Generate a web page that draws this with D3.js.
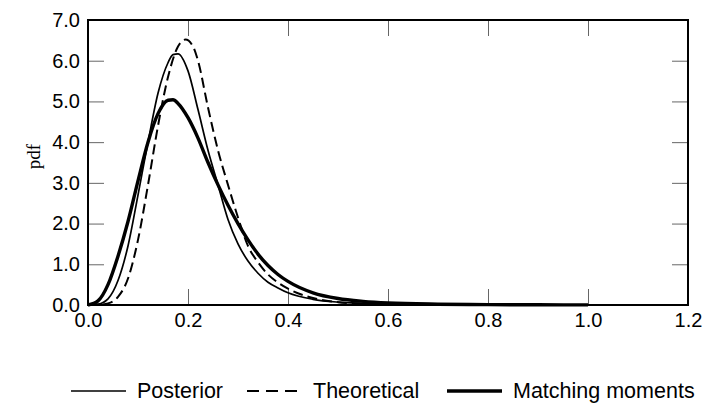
<!DOCTYPE html>
<html>
<head>
<meta charset="utf-8">
<script src="https://cdn.jsdelivr.net/npm/d3@7"></script>
<style>
  body { margin: 0; background: #fff; }
  .tick text { font-family: "Liberation Sans", Arial, sans-serif; }
</style>
</head>
<body>
<div id="graph"></div>
<script>
// Series data (x values and pdf readings)
var xPosterior = [0, 0.02, 0.04, 0.06, 0.08, 0.10, 0.12, 0.14, 0.16, 0.17, 0.18, 0.20, 0.22, 0.24, 0.26, 0.28, 0.30, 0.32, 0.34, 0.36, 0.38, 0.40, 0.45, 0.50, 0.55, 0.60, 0.70, 0.80, 0.90, 0.98];
var posterior  = [0, 0.02, 0.15, 0.6, 1.45, 2.7, 4.0, 5.2, 5.95, 6.15, 6.17, 5.75, 4.8, 3.8, 2.95, 2.1, 1.5, 1.08, 0.78, 0.56, 0.42, 0.3, 0.14, 0.07, 0.04, 0.02, 0.01, 0.005, 0.002, 0];

var xTheoretical = [0, 0.02, 0.04, 0.06, 0.08, 0.10, 0.12, 0.14, 0.16, 0.18, 0.195, 0.21, 0.22, 0.24, 0.26, 0.28, 0.30, 0.32, 0.34, 0.36, 0.38, 0.40, 0.45, 0.50, 0.55, 0.60, 0.70, 0.80];
var theoretical  = [0, 0.005, 0.04, 0.2, 0.65, 1.6, 2.95, 4.4, 5.6, 6.35, 6.52, 6.35, 6.0, 4.85, 3.8, 2.95, 2.15, 1.45, 1.05, 0.75, 0.55, 0.4, 0.17, 0.07, 0.03, 0.01, 0.003, 0];

var xMatching = [0, 0.02, 0.04, 0.06, 0.08, 0.10, 0.12, 0.14, 0.16, 0.17, 0.18, 0.20, 0.22, 0.24, 0.26, 0.28, 0.30, 0.32, 0.34, 0.36, 0.38, 0.40, 0.45, 0.50, 0.55, 0.60, 0.70, 0.80, 0.90, 1.00];
var matching  = [0, 0.1, 0.5, 1.2, 2.05, 3.05, 4.0, 4.7, 5.03, 5.04, 4.95, 4.6, 4.1, 3.5, 2.95, 2.45, 2.0, 1.6, 1.25, 0.97, 0.75, 0.58, 0.3, 0.16, 0.09, 0.05, 0.02, 0.01, 0.005, 0.002];

var seriesNames = ['Posterior', 'Theoretical', 'Matching moments'];

var xTicks = [0, 0.2, 0.4, 0.6, 0.8, 1.0, 1.2];
var yTicks = [0, 1, 2, 3, 4, 5, 6, 7];

// Graph dimensions
var W = 702, H = 403;
var margin = {top: 20, right: 14, bottom: 98, left: 88},
    width = W - margin.left - margin.right,
    height = H - margin.top - margin.bottom;

// Set ranges
var x = d3.scaleLinear().domain([0, 1.2]).range([0, width]),
    y = d3.scaleLinear().domain([0, 7]).range([height, 0]);

var fmt = d3.format('.1f');

// Line styles per series (curve dash, legend dash)
var styles = [
    {width: 1.7, dash: null, legendDash: null},
    {width: 2, dash: '10,5', legendDash: '12,7'},
    {width: 3.4, dash: null, legendDash: null}
];

var series = [
    xPosterior.map(function(v, i) { return {x: v, y: posterior[i]}; }),
    xTheoretical.map(function(v, i) { return {x: v, y: theoretical[i]}; }),
    xMatching.map(function(v, i) { return {x: v, y: matching[i]}; })
];

var svg = d3.select('#graph')
    .append('svg')
    .attr('width', W)
    .attr('height', H);

var chart = svg.append('g')
    .attr('transform', 'translate(' + margin.left + ',' + margin.top + ')');

// Axes with inward ticks
var tickLen = 16;
function styleAxis(g, showLabels) {
    g.select('.domain').remove();
    g.selectAll('.tick line').attr('stroke', '#666').attr('stroke-width', 1);
    if (!showLabels) g.selectAll('.tick text').remove();
    else g.selectAll('.tick text').attr('fill', '#000').style('font-size', '20px');
}

chart.append('g')
    .attr('transform', 'translate(0,' + height + ')')
    .call(d3.axisBottom(x).tickValues(xTicks).tickFormat(fmt).tickSize(-tickLen).tickPadding(8))
    .call(styleAxis, true);
chart.append('g')
    .call(d3.axisLeft(y).tickValues(yTicks).tickFormat(fmt).tickSize(-tickLen).tickPadding(8))
    .call(styleAxis, true);
chart.append('g')
    .call(d3.axisTop(x).tickValues(xTicks).tickSize(-tickLen))
    .call(styleAxis, false);
chart.append('g')
    .attr('transform', 'translate(' + width + ',0)')
    .call(d3.axisRight(y).tickValues(yTicks).tickSize(-tickLen))
    .call(styleAxis, false);

// Curves
var line = d3.line()
    .curve(d3.curveMonotoneX)
    .x(function(d) { return x(d.x); })
    .y(function(d) { return y(d.y); });

series.forEach(function(s, i) {
    chart.append('path')
        .datum(s)
        .attr('fill', 'none')
        .attr('stroke', '#000')
        .attr('stroke-width', styles[i].width)
        .attr('stroke-dasharray', styles[i].dash)
        .attr('stroke-linejoin', 'round')
        .attr('d', line);
});

// Frame
chart.append('rect')
    .attr('width', width)
    .attr('height', height)
    .attr('fill', 'none')
    .attr('stroke', '#000')
    .attr('stroke-width', 2);

// Y label
svg.append('text')
    .attr('transform', 'translate(40,' + (margin.top + height / 2 - 6) + ') rotate(-90)')
    .attr('text-anchor', 'middle')
    .style('font-family', '"Liberation Serif", "DejaVu Serif", serif')
    .style('font-size', '19px')
    .text('pdf');

// Legend
var legendX = [71, 247, 447];
var legend = svg.append('g').attr('transform', 'translate(0,391)');
seriesNames.forEach(function(name, i) {
    legend.append('line')
        .attr('x1', legendX[i]).attr('x2', legendX[i] + 55)
        .attr('y1', 0).attr('y2', 0)
        .attr('stroke', '#000')
        .attr('stroke-width', styles[i].width)
        .attr('stroke-dasharray', styles[i].legendDash);
    legend.append('text')
        .attr('x', legendX[i] + 66)
        .attr('y', 7)
        .style('font-family', '"Liberation Sans", Arial, sans-serif')
        .style('font-size', '21.5px')
        .text(name);
});
</script>
</body>
</html>
